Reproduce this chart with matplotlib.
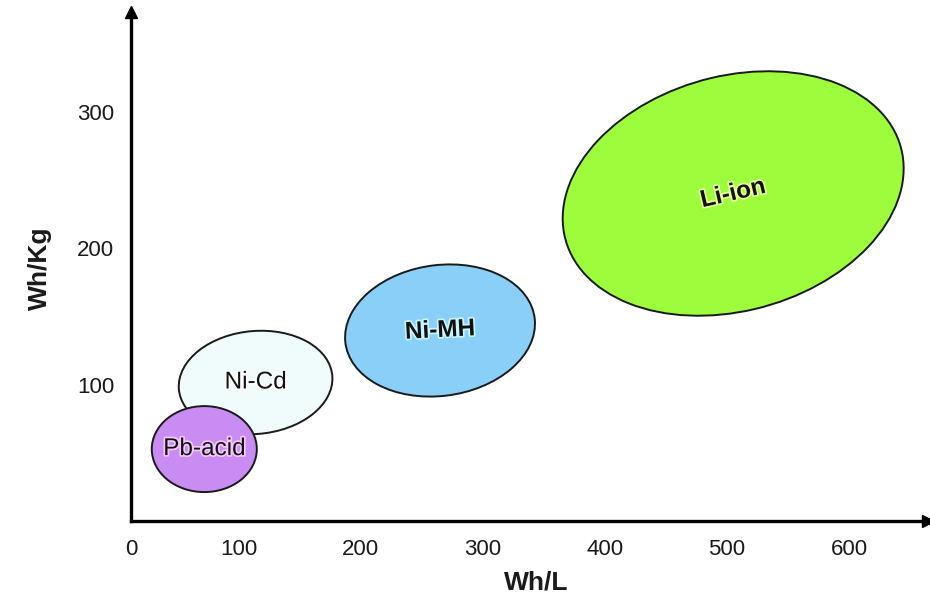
import numpy as np
from matplotlib import pyplot as plt
from matplotlib.patches import Ellipse
import matplotlib.patheffects as pe

# battery families: energy density regions (Wh/L, Wh/Kg)
names = ['Ni-Cd', 'Pb-acid', 'Ni-MH', 'Li-ion']
center_whl = [114, 72, 265, 505]
center_whkg = [101.5, 52.7, 139.6, 240]
span_whl = [126, 86, 156, 283]
span_whkg = [75.5, 63, 96, 173]
tilt = [4, 0, 6, 12]
fills = ['#f0fbfb', '#c98cf2', '#89cff8', '#9dfd3c']
halos = ['#ffffff', '#f4c8ff', '#c8f6ff', '#e8ff9a']
label_bold = [False, False, True, True]
label_rot = [0, 0, 3, 13]

x_origin = 12  # where the axes cross
x_ticks = [100, 200, 300, 400, 500, 600]
y_ticks = [100, 200, 300]

plt.rcParams['font.family'] = ['Liberation Sans', 'DejaVu Sans']

fig = plt.figure(figsize=(9.3, 6.01), dpi=100)
ax = fig.add_axes([131 / 930, 80 / 601, 797 / 930, 509 / 601])
ax.set_xlim(x_origin, 664.5)
ax.set_ylim(0, 373)

for i in range(len(names)):
    e = Ellipse((center_whl[i], center_whkg[i]), span_whl[i], span_whkg[i],
                angle=tilt[i], facecolor=fills[i], edgecolor='#1a1a1a', lw=1.4, zorder=2 + i)
    ax.add_patch(e)
    t = ax.text(center_whl[i], center_whkg[i], names[i], ha='center', va='center',
                fontsize=17.5, fontweight='bold' if label_bold[i] else 'normal',
                rotation=label_rot[i], color='#111111', zorder=10)
    t.set_path_effects([pe.withStroke(linewidth=2.5, foreground=halos[i])])

# axes with arrow heads
for side in ['top', 'right']:
    ax.spines[side].set_visible(False)
for side in ['left', 'bottom']:
    ax.spines[side].set_linewidth(2.4)
    ax.spines[side].set_color('black')
ax.plot(1, 0, '>k', ms=9, transform=ax.transAxes, clip_on=False)
ax.plot(0, 1, '^k', ms=9, transform=ax.transAxes, clip_on=False)

ax.set_xticks([x_origin] + x_ticks, ['0'] + [str(v) for v in x_ticks])
ax.set_yticks(y_ticks)
ax.tick_params(length=0, labelsize=16, labelcolor='#1a1a1a')
ax.tick_params(axis='x', pad=13)
ax.tick_params(axis='y', pad=12)

fig.text(536 / 930, 1 - 582 / 601, 'Wh/L', ha='center', va='center',
         fontsize=19, fontweight='bold', color='#1a1a1a')
fig.text(40 / 930, 1 - 268 / 601, 'Wh/Kg', ha='center', va='center', rotation=90,
         fontsize=19, fontweight='bold', color='#1a1a1a')

fig.savefig('out.png', dpi=100)
